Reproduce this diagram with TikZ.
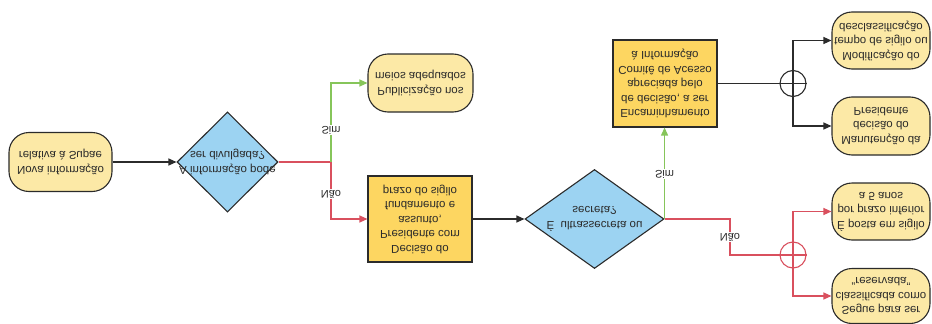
\documentclass[tikz,border=0pt]{standalone}
\usepackage{fontspec}
\setmainfont{Liberation Sans}
\usetikzlibrary{shapes.geometric,arrows.meta}
\definecolor{pale}{HTML}{FCE9A6}
\definecolor{gold}{HTML}{FDD661}
\definecolor{sky}{HTML}{9CD3F2}
\definecolor{rd}{HTML}{D9505E}
\definecolor{gr}{HTML}{86C55A}
\definecolor{edge}{HTML}{2B2B2B}
\begin{document}
\begin{tikzpicture}[x=1pt,y=1pt,yscale=-1,
  every node/.append style={transform shape},
  txt/.style={align=center,text=edge,font=\fontsize{11.5}{14.5}\selectfont},
  term/.style={txt,draw=edge,line width=1.1pt,fill=pale,rounded corners=20pt,inner sep=0pt,minimum width=98pt,minimum height=57pt},
  stepbox/.style={txt,draw=edge,line width=1.1pt,fill=gold,inner sep=0pt,minimum width=104pt,minimum height=86pt},
  dia/.style={diamond,draw=edge,line width=1.1pt,fill=sky,inner sep=0pt},
  gate/.style={circle,line width=1.1pt,fill=white,inner sep=0pt,minimum size=26pt},
  lab/.style={txt,fill=white,inner sep=1pt,font=\fontsize{11}{13}\selectfont},
  arr/.style={-{Triangle[length=8pt,width=7pt]}},
  blk/.style={draw=edge,line width=1.2pt},
  redl/.style={draw=rd,line width=1.2pt},
  grl/.style={draw=gr,line width=1.2pt}]
\useasboundingbox (0,0) rectangle (932,324);
% nodes
\node[term,minimum width=103pt,minimum height=59pt] (start) at (60.5,162) {Nova informação\\relativa à Supae};
\node[dia,minimum width=101pt,minimum height=100pt] (d1) at (227.5,162) {};
\node[txt] (d1t) at (d1) {A informação pode\\ser divulgada?};
\node[term,minimum width=105pt,minimum height=58pt] (pub) at (420.5,83) {Publicização nos\\meios adequados};
\node[stepbox] (dec) at (420,219) {Decisão do\\Presidente com\\assunto,\\fundamento e\\prazo do sigilo};
\node[dia,minimum width=139pt,minimum height=99pt] (d2) at (594.5,219) {};
\node[txt] (d2t) at (d2) {É\ \ ultrassecreta ou\\secreta?};
\node[stepbox,minimum height=87pt] (enc) at (665,83.5) {Encaminhamento\\de decisão, a ser\\apreciada pelo\\Comitê de Acesso\\à Informação};
\node[gate,draw=edge] (c1) at (793,83.5) {};
\node[gate,draw=rd] (c2) at (793,255) {};
\node[term] (mod) at (881,40.5) {Modificação do\\tempo de sigilo ou\\desclassificação};
\node[term,minimum height=58pt] (man) at (881,126) {Manutenção da\\decisão do\\Presidente};
\node[term] (pos) at (881,211.5) {É posta em sigilo\\por prazo inferior\\a 5 anos};
\node[term,minimum height=55pt] (seg) at (881,296) {Segue para ser\\classificada como\\“reservada”};
\coordinate (j1) at (331,162);
\coordinate (k2) at (730,255);
% connectors
\draw[blk,arr] (start.east) -- (d1.west);
\draw[redl] (d1.east) -- (j1);
\draw[grl,arr] (j1) |- node[lab,pos=0.2]{Sim} (pub.west);
\draw[redl,arr] (j1) |- node[lab,pos=0.28]{Não} (dec.west);
\draw[blk,arr] (dec.east) -- (d2.west);
\draw[grl,arr] (d2.east) -- node[lab,pos=0.49]{Sim} (d2.east |- enc.north);
\draw[redl] (d2.east) -| node[lab,pos=0.75]{Não} (k2) -- (c2.west);
\draw[blk] (enc.east) -- (c1.west);
\draw[blk] (c1.north) -- (c1.south) (c1.west) -- (c1.east);
\draw[blk,arr] (c1.south) |- (mod.west);
\draw[blk,arr] (c1.north) |- (man.west);
\draw[redl] (c2.north) -- (c2.south) (c2.west) -- (c2.east);
\draw[redl,arr] (c2.south) |- (pos.west);
\draw[redl,arr] (c2.north) |- (seg.west);
\end{tikzpicture}
\end{document}
